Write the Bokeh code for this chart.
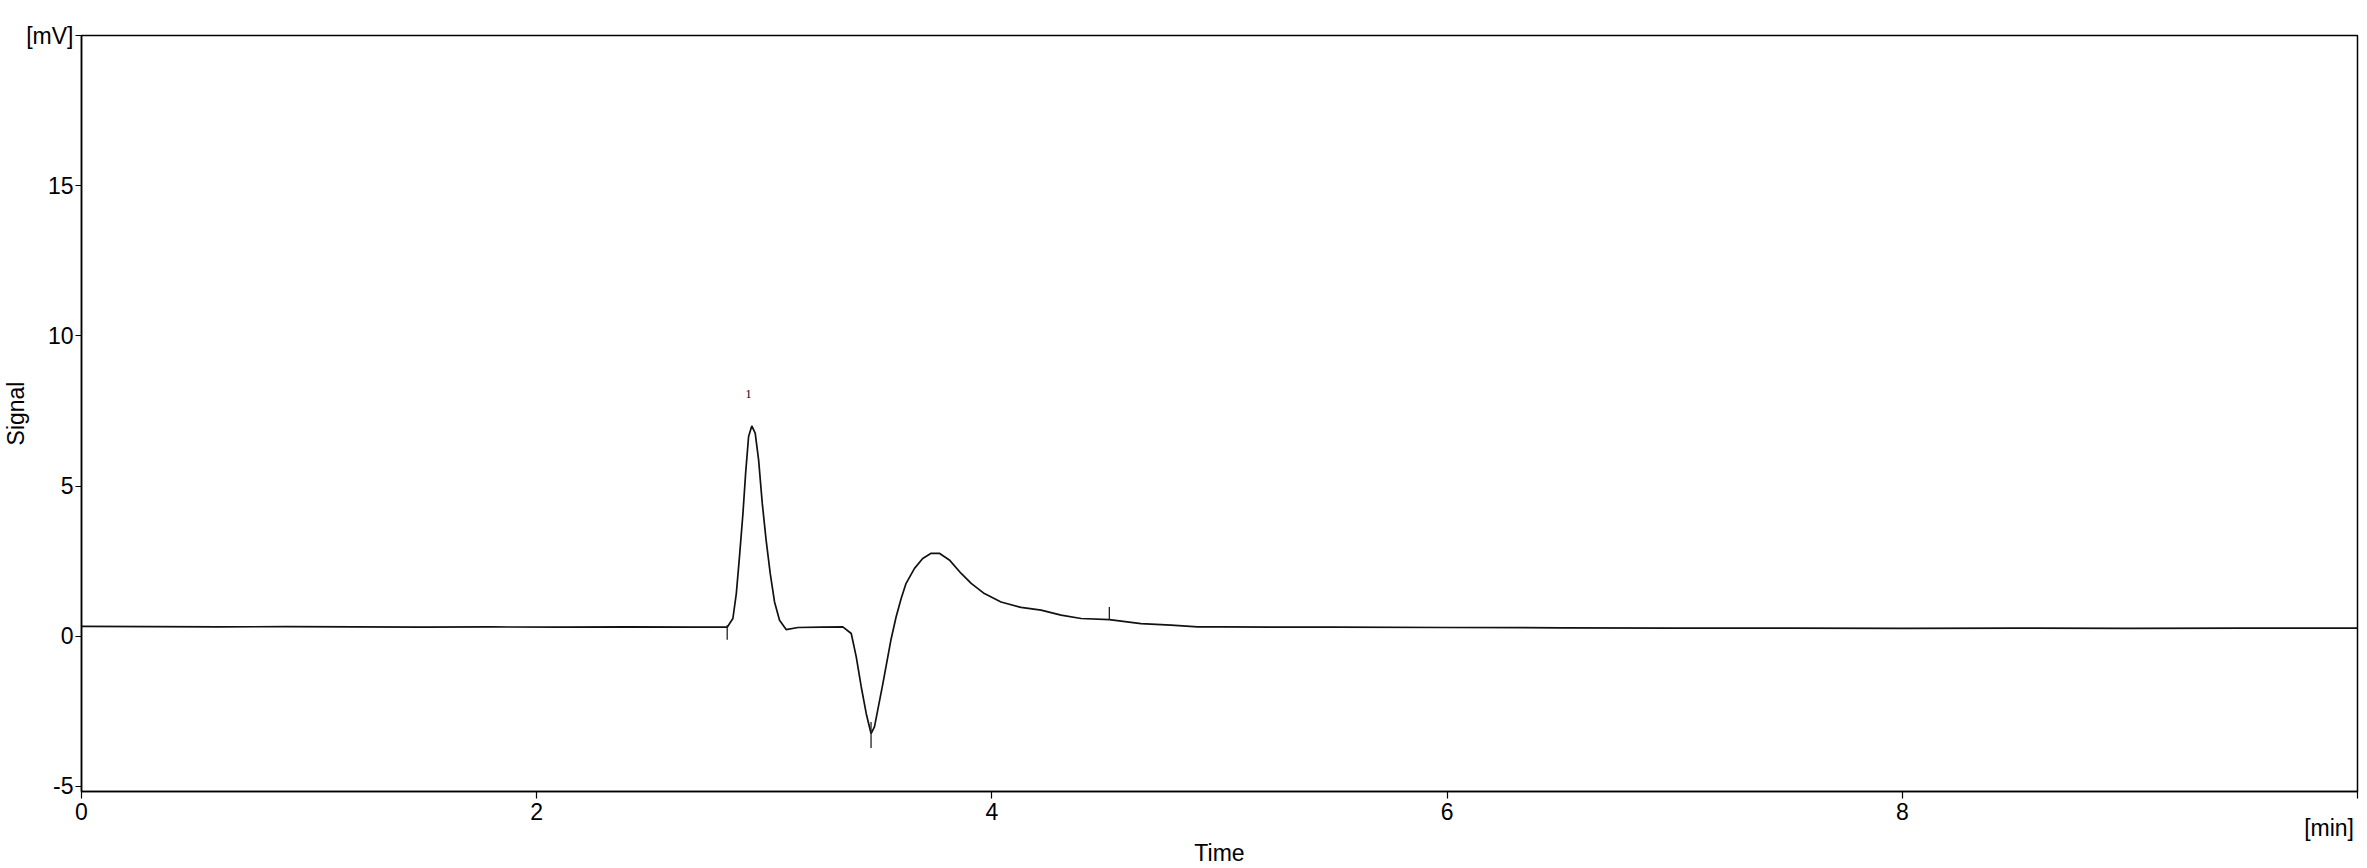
from bokeh.plotting import figure
from bokeh.models import FixedTicker, ColumnDataSource, LinearAxis, Range1d
from bokeh.embed import file_html
from bokeh.resources import INLINE

# ---- data ----
time_min = [0.0, 0.3, 0.6, 0.9, 1.2, 1.5, 1.8, 2.1, 2.4, 2.7, 2.837,
            2.862, 2.877, 2.891, 2.906, 2.918, 2.931, 2.945, 2.960, 2.975,
            2.991, 3.008, 3.026, 3.045, 3.067, 3.096, 3.148, 3.25, 3.345,
            3.382, 3.404, 3.426, 3.448, 3.469, 3.484, 3.521, 3.557, 3.579,
            3.601, 3.623, 3.660, 3.696, 3.733, 3.769, 3.813, 3.865, 3.909,
            3.967, 4.04, 4.128, 4.216, 4.304, 4.392, 4.516, 4.655, 4.787,
            4.904, 5.007, 5.5, 6.0, 6.5, 7.0, 7.5, 8.0, 8.5, 9.0, 9.5, 10.0]
signal_mv = [0.33, 0.32, 0.31, 0.32, 0.31, 0.30, 0.31, 0.30, 0.31, 0.30, 0.30,
             0.59, 1.42, 2.65, 4.07, 5.43, 6.65, 7.00, 6.76, 5.87,
             4.43, 3.20, 2.09, 1.14, 0.53, 0.22, 0.29, 0.30, 0.31,
             0.09, -0.69, -1.69, -2.58, -3.24, -3.02, -1.58, -0.10, 0.64,
             1.25, 1.76, 2.26, 2.59, 2.76, 2.76, 2.54, 2.09, 1.76,
             1.42, 1.14, 0.96, 0.87, 0.70, 0.59, 0.55, 0.42, 0.37,
             0.31, 0.31, 0.30, 0.29, 0.28, 0.27, 0.27, 0.26, 0.27, 0.26, 0.27, 0.27]

# integration markers (time, top, bottom)
marker_t = [2.837, 3.469, 4.516]
marker_top = [0.37, -2.86, 0.97]
marker_bottom = [-0.12, -3.72, 0.55]

peak_labels = ["1"]
peak_label_t = [2.931]
peak_label_v = [8.05]

x_ticks = [0, 2, 4, 6, 8, 10]
y_ticks = [-5, 0, 5, 10, 15, 20]
y_tick_labels = {-5: "-5", 20: "[mV]"}
x_tick_labels = {10: ""}
x_unit = "[min]"
x_title = "Time"
y_title = "Signal"

FONT = "Liberation Sans"
FS = "23px"

p = figure(width=2359, height=868, x_range=(0, 10), y_range=(-5.17, 20),
           output_backend="svg", toolbar_location=None,
           min_border_left=80, min_border_right=2, min_border_top=35,
           min_border_bottom=77)
p.grid.visible = False
p.outline_line_color = "black"
p.outline_line_width = 1.5
p.background_fill_color = "white"
p.border_fill_color = "white"

p.line(time_min, signal_mv, line_color="#111111", line_width=1.7)
p.segment(x0=marker_t, y0=marker_bottom, x1=marker_t, y1=marker_top,
          line_color="#222222", line_width=1.3)

src = ColumnDataSource(dict(x=peak_label_t, y=peak_label_v, t=peak_labels))
p.text(x="x", y="y", text="t", source=src, text_font_size="12px",
       text_font=FONT, text_align="center", text_baseline="middle",
       text_color="black")

for ax in (p.xaxis[0], p.yaxis[0]):
    ax.axis_line_color = "black"
    ax.axis_line_width = 1.5
    ax.major_tick_line_color = "black"
    ax.major_tick_line_width = 1.2
    ax.minor_tick_line_color = None
    ax.major_tick_in = 0
    ax.major_label_text_font = FONT
    ax.major_label_text_font_size = FS
    ax.major_label_text_color = "black"
    ax.axis_label_text_font = FONT
    ax.axis_label_text_font_size = FS
    ax.axis_label_text_font_style = "normal"
    ax.axis_label_text_color = "black"

p.xaxis.ticker = FixedTicker(ticks=x_ticks)
p.xaxis.major_label_overrides = x_tick_labels
p.xaxis.major_tick_out = 7
p.xaxis.major_label_standoff = 4

p.yaxis.ticker = FixedTicker(ticks=y_ticks)
p.yaxis.major_label_overrides = y_tick_labels
p.yaxis.major_tick_out = 6
p.yaxis.major_label_standoff = 2
p.yaxis.axis_label = y_title
p.yaxis.axis_label_standoff = -6

# second row under the time axis: unit label at the right and axis title
unit_pos = 9.875
p.extra_x_ranges = {"aux": Range1d(0, 10)}
aux = LinearAxis(x_range_name="aux", ticker=FixedTicker(ticks=[unit_pos]),
                 major_label_overrides={unit_pos: x_unit},
                 axis_line_color=None, major_tick_line_color=None,
                 minor_tick_line_color=None, major_tick_out=0, major_tick_in=0,
                 major_label_standoff=-8, axis_label=x_title,
                 axis_label_standoff=-4,
                 major_label_text_font=FONT, major_label_text_font_size=FS,
                 major_label_text_color="black",
                 axis_label_text_font=FONT, axis_label_text_font_size=FS,
                 axis_label_text_font_style="normal", axis_label_text_color="black")
p.add_layout(aux, "below")

open("out.html", "w").write(file_html(p, INLINE))
